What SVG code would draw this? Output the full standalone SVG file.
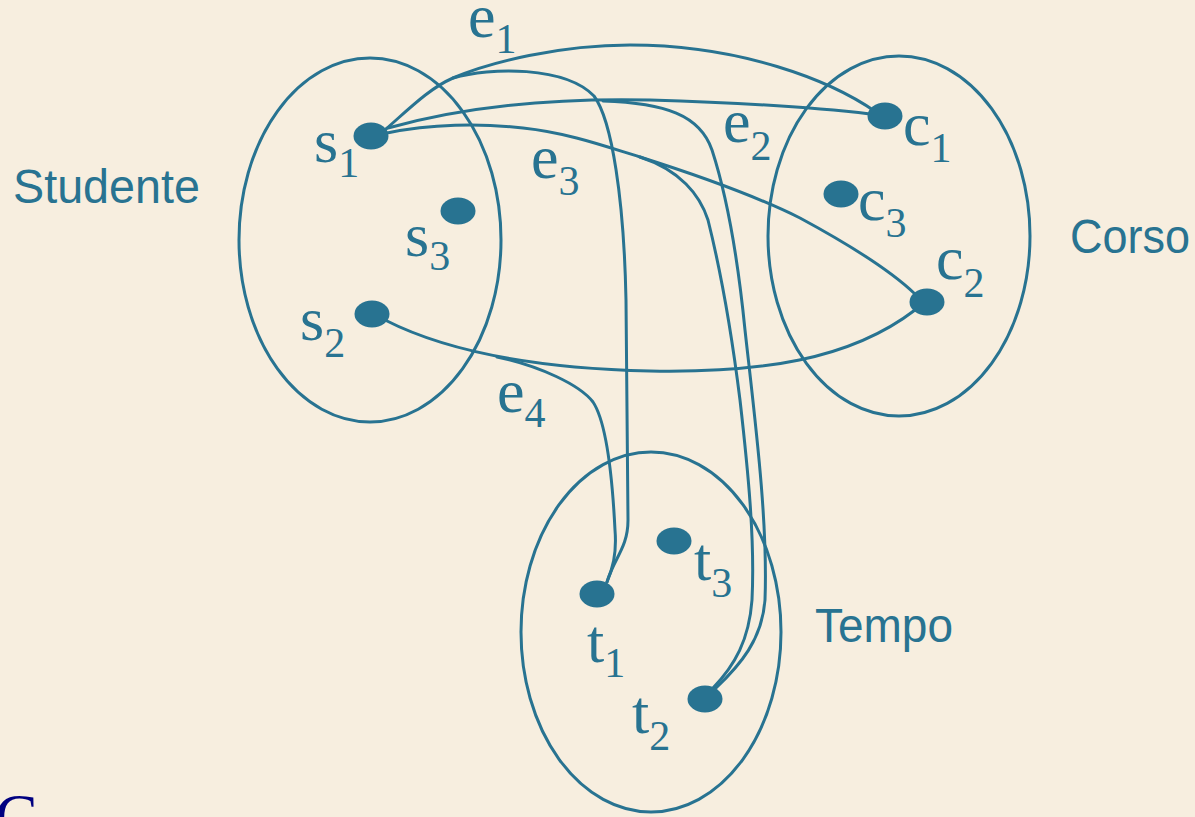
<svg xmlns="http://www.w3.org/2000/svg" width="1195" height="817" viewBox="0 0 1195 817">
<style>
.set{fill:none;stroke:#287391;stroke-width:3}
.edge{fill:none;stroke:#287391;stroke-width:3;stroke-linecap:round}
.dot{fill:#287391}
.lbl{font-family:"Liberation Serif","Times New Roman",serif;font-size:62px;fill:#287391}
.sub{font-size:42px}
.title{font-family:"Liberation Sans",Arial,sans-serif;font-size:48px;fill:#287391}
</style>
<rect x="0" y="0" width="1195" height="817" fill="#F7EEDF"/>
<g id="set-studente">
<ellipse class="set" cx="370" cy="240" rx="131" ry="182"/>
<text class="title" x="13" y="203" textLength="187" lengthAdjust="spacingAndGlyphs">Studente</text>
</g>
<g id="set-corso">
<ellipse class="set" cx="899" cy="236" rx="131" ry="180"/>
<text class="title" x="1070" y="253" textLength="120" lengthAdjust="spacingAndGlyphs">Corso</text>
</g>
<g id="set-tempo">
<ellipse class="set" cx="651" cy="632" rx="130" ry="180"/>
<text class="title" x="815" y="642" textLength="138" lengthAdjust="spacingAndGlyphs">Tempo</text>
</g>
<g id="connectors">
<path id="e1" class="edge" d="M386,129 C410,108 430,88 453,78 C490,62 560,45 630,45 C740,45 830,80 876,112"/>
<path id="e1-t" class="edge" d="M453,78 C490,67 565,66 594,96 C612,120 624,200 626,300 L628,520 C628,548 614,558 607,582"/>
<path id="e2" class="edge" d="M388,128 C470,105 560,98 650,100 C750,103 820,108 870,114"/>
<path id="e2-t" class="edge" d="M603,101 C665,103 700,115 712,150 C725,190 737,250 745,330 C755,420 768,520 765,600 C762,640 740,665 716,688"/>
<path id="e3" class="edge" d="M387,133 C430,124 480,123 523,128 C570,133 610,148 640,157 C700,176 760,198 800,218 C850,245 890,270 915,294"/>
<path id="e3-t" class="edge" d="M640,157 C680,170 700,195 708,220 C718,260 730,320 740,400 C748,470 755,540 752,600 C749,640 735,665 713,688"/>
<path id="e4" class="edge" d="M385,320 C440,348 520,368 650,371 C760,373 850,360 915,310"/>
<path id="e4-t" class="edge" d="M497,357 C540,366 580,385 593,402 C605,420 612,470 615,530 C617,555 612,570 607,582"/>
</g>
<g id="node-s1"><ellipse class="dot" cx="371" cy="136" rx="17.5" ry="13.5"/><text class="lbl" x="314" y="162">s<tspan class="sub" dy="15">1</tspan></text></g>
<g id="node-s3"><ellipse class="dot" cx="458" cy="211" rx="17.5" ry="13.5"/><text class="lbl" x="405" y="256">s<tspan class="sub" dy="14">3</tspan></text></g>
<g id="node-s2"><ellipse class="dot" cx="372" cy="314" rx="17.5" ry="13.5"/><text class="lbl" x="300" y="340">s<tspan class="sub" dy="17">2</tspan></text></g>
<g id="node-c1"><ellipse class="dot" cx="885" cy="116" rx="17.5" ry="13.5"/><text class="lbl" x="903" y="145">c<tspan class="sub" dy="17">1</tspan></text></g>
<g id="node-c3"><ellipse class="dot" cx="841" cy="194" rx="17.5" ry="13.5"/><text class="lbl" x="858" y="220">c<tspan class="sub" dy="17">3</tspan></text></g>
<g id="node-c2"><ellipse class="dot" cx="927" cy="302" rx="17.5" ry="13.5"/><text class="lbl" x="936" y="279">c<tspan class="sub" dy="18">2</tspan></text></g>
<g id="node-t1"><ellipse class="dot" cx="597" cy="594" rx="17.5" ry="13.5"/><text class="lbl" x="587" y="662">t<tspan class="sub" dy="15">1</tspan></text></g>
<g id="node-t3"><ellipse class="dot" cx="674" cy="541" rx="17.5" ry="13.5"/><text class="lbl" x="694" y="580">t<tspan class="sub" dy="17">3</tspan></text></g>
<g id="node-t2"><ellipse class="dot" cx="705" cy="699" rx="17.5" ry="13.5"/><text class="lbl" x="632" y="733">t<tspan class="sub" dy="17">2</tspan></text></g>
<g id="edge-labels">
<text class="lbl" x="468" y="37">e<tspan class="sub" dy="16">1</tspan></text>
<text class="lbl" x="723" y="142">e<tspan class="sub" dy="18">2</tspan></text>
<text class="lbl" x="531" y="178">e<tspan class="sub" dy="17">3</tspan></text>
<text class="lbl" x="497" y="412">e<tspan class="sub" dy="15">4</tspan></text>
</g>
<text x="-5" y="838" font-family="'Liberation Serif','Times New Roman',serif" font-size="64" fill="#000080">C</text>
</svg>
